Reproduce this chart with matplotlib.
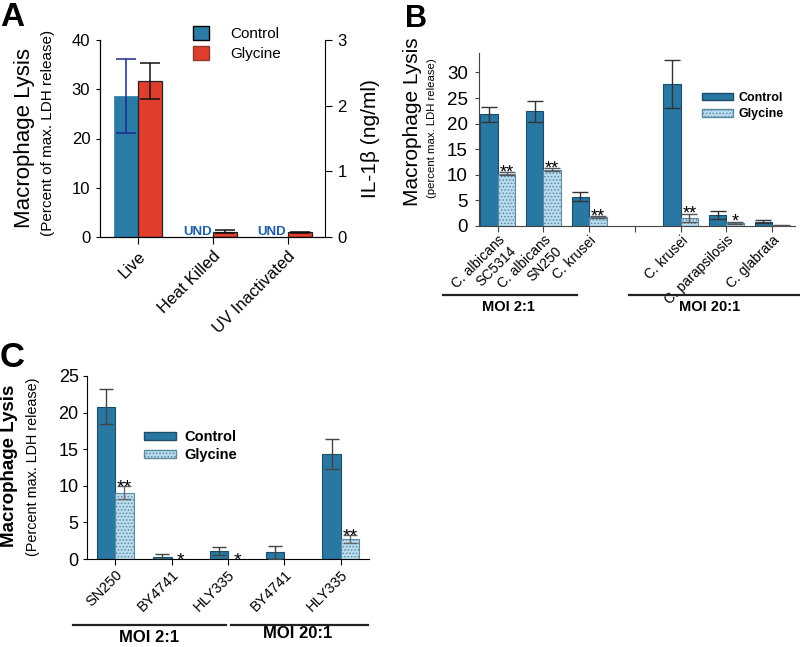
import numpy as np
import matplotlib
matplotlib.use('Agg')
import matplotlib.pyplot as plt
from matplotlib.patches import Patch
from matplotlib.lines import Line2D
import matplotlib.transforms as mtrans

# ---------------- DATA ----------------
A_categories = ['Live', 'Heat Killed', 'UV Inactivated']
A_control = [28.6, np.nan, np.nan]          # UND for heat killed / UV
A_control_err = [7.5, np.nan, np.nan]
A_glycine = [31.7, 1.1, 0.95]
A_glycine_err = [3.7, 0.3, 0.12]
A_und_label = 'UND'
A_ylabel = 'Macrophage Lysis'
A_ysub = '(Percent of max. LDH release)'
A_y2label = 'IL-1β (ng/ml)'

B_species = ['C. albicans', 'C. albicans', 'C. krusei', 'C. krusei', 'C. parapsilosis', 'C. glabrata']
B_strains = ['SC5314', 'SN250', '', '', '', '']
B_positions = [0, 1, 2, 4, 5, 6]
B_control = [21.8, 22.4, 5.7, 27.7, 2.1, 0.8]
B_control_err = [1.4, 2.0, 0.9, 4.7, 0.8, 0.3]
B_glycine = [10.2, 11.0, 1.7, 1.6, 0.6, 0.1]
B_glycine_err = [0.3, 0.3, 0.2, 0.8, 0.2, 0.05]
B_sig = ['**', '**', '**', '**', '*', '']
B_groups = ['MOI 2:1', 'MOI 20:1']

C_categories = ['SN250', 'BY4741', 'HLY335', 'BY4741', 'HLY335']
C_control = [20.8, 0.27, 1.14, 0.9, 14.4]
C_control_err = [2.4, 0.45, 0.55, 0.9, 2.05]
C_glycine = [9.06, 0.0, 0.0, 0.0, 2.73]
C_glycine_err = [0.9, 0.0, 0.0, 0.0, 0.5]
C_sig = ['**', '*', '*', '', '**']
C_groups = ['MOI 2:1', 'MOI 20:1']

series_labels = ['Control', 'Glycine']

# ---------------- STYLE ----------------
plt.rcParams['font.family'] = ['Liberation Sans', 'DejaVu Sans']
plt.rcParams['hatch.linewidth'] = 0.7

ctrlA = '#2a7ba6'
glyA = '#e03e2d'
ctrlB = '#2878a3'
edgeB = '#1d4c69'
glyB = '#b9dcee'
hatchB = '#5d8aa3'
und_color = '#1f5fa8'

W, H = 800, 647
fig = plt.figure(figsize=(8, 6.47), dpi=100)


def fx(x):
    return x / W


def fy(y):
    return 1 - y / H


def axrect(l, t, r, b):
    return [fx(l), fy(b), (r - l) / W, (b - t) / H]


def star(ax, x, y, s, size, dy):
    if s:
        ax.annotate(s, (x, y), xytext=(0, dy), textcoords='offset points',
                    ha='center', va='baseline', fontsize=size, annotation_clip=False)


# ================= PANEL A =================
axA = fig.add_axes(axrect(100, 40, 325, 237))
xa = np.arange(len(A_categories))
wA = 0.325
cA = np.array(A_control, dtype=float)
gA = np.array(A_glycine, dtype=float)
mask = ~np.isnan(cA)
axA.bar(xa[mask] - wA / 2, cA[mask], wA, color=ctrlA, edgecolor=ctrlA, linewidth=0.5, zorder=2)
axA.errorbar(xa[mask] - wA / 2, cA[mask], yerr=np.array(A_control_err)[mask], fmt='none',
             ecolor='#1c2b8f', elinewidth=1.1, capsize=7, capthick=1.1, zorder=3)
axA.bar(xa + wA / 2, gA, wA, color=glyA, edgecolor='#222222', linewidth=0.9, zorder=2)
axA.errorbar(xa + wA / 2, gA, yerr=A_glycine_err, fmt='none',
             ecolor='#111111', elinewidth=1.1, capsize=7, capthick=1.1, zorder=3)
for i in np.where(~mask)[0]:
    axA.text(xa[i] - 0.02, 0.45, A_und_label, color=und_color, fontweight='bold',
             fontsize=9.5, ha='right', va='baseline')
axA.set_xlim(-0.51, 2.5)
axA.set_ylim(0, 40)
axA.set_yticks([0, 10, 20, 30, 40])
axA.spines['top'].set_visible(False)
axA.spines['right'].set_visible(False)
axA.tick_params(axis='y', direction='out', length=3, labelsize=12, pad=4)
axA.tick_params(axis='x', direction='out', length=5)
axA.set_xticks(xa)
axA.set_xticklabels(A_categories, rotation=45, ha='right', va='top',
                    rotation_mode='anchor', fontsize=12)
axA2 = axA.twinx()
axA2.set_ylim(0, 3)
axA2.set_yticks([0, 1, 2, 3])
axA2.spines['top'].set_visible(False)
axA2.tick_params(axis='y', direction='out', length=5, labelsize=12, pad=4)
axA2.set_ylabel(A_y2label, fontsize=15, labelpad=10)
fig.text(fx(25), fy(138), A_ylabel, rotation=90, fontsize=16, ha='center', va='center')
fig.text(fx(48), fy(133), A_ysub, rotation=90, fontsize=11, ha='center', va='center')
axA.legend([Patch(facecolor=ctrlA, edgecolor='black'), Patch(facecolor=glyA, edgecolor='#8a3a30')],
           series_labels, loc='upper left', bbox_to_anchor=(fx(193), fy(26)),
           bbox_transform=fig.transFigure, frameon=False, fontsize=11,
           handlelength=1.05, handleheight=1.0, handletextpad=1.4, labelspacing=0.35,
           borderpad=0, borderaxespad=0)
fig.text(fx(0), fy(26), 'A', fontsize=24, fontweight='bold', va='baseline', ha='left')

# ================= PANEL B =================
axB = fig.add_axes(axrect(479, 53, 795, 226))
xb = np.array(B_positions, dtype=float)
wB = 0.385
axB.bar(xb - wB / 2, B_control, wB, color=ctrlB, edgecolor=edgeB, linewidth=0.8, zorder=2)
axB.errorbar(xb - wB / 2, B_control, yerr=B_control_err, fmt='none', ecolor='#333333',
             elinewidth=1.0, capsize=5.5, capthick=1.0, zorder=3)
axB.bar(xb + wB / 2, B_glycine, wB, color=glyB, edgecolor=hatchB, linewidth=0.8,
        hatch='.....', zorder=2)
axB.errorbar(xb + wB / 2, B_glycine, yerr=B_glycine_err, fmt='none', ecolor='#555555',
             elinewidth=1.0, capsize=5.5, capthick=1.0, zorder=3)
for x, v, e, s in zip(xb, B_glycine, B_glycine_err, B_sig):
    star(axB, x + wB / 2, v + e, s, 13, -3.5)
axB.set_xlim(-0.41, 6.5)
axB.set_ylim(0, 33.8)
axB.set_yticks([0, 5, 10, 15, 20, 25, 30])
axB.spines['top'].set_visible(False)
axB.spines['right'].set_visible(False)
axB.spines['left'].set_color('#444444')
axB.spines['bottom'].set_color('#444444')
axB.tick_params(axis='y', direction='out', length=3, labelsize=13.5, pad=5, color='#444444')
axB.tick_params(axis='x', direction='out', length=4, color='#444444', pad=1)
axB.set_xticks(list(xb[:3]) + [3] + list(xb[3:]))
rotB = 45
axB.set_xticklabels(B_species[:3] + [''] + B_species[3:], rotation=rotB, ha='right',
                    va='top', rotation_mode='anchor', fontsize=10)
# second line (strain) of the two-line labels
bt = mtrans.blended_transform_factory(axB.transData, axB.transAxes)
d = 11.5
for x, s in zip(xb, B_strains):
    if s:
        axB.annotate(s, (x, 0), xycoords=bt,
                     xytext=(d * np.sin(np.radians(rotB)), -5 - d * np.cos(np.radians(rotB))),
                     textcoords='offset points', rotation=rotB, ha='right', va='top',
                     rotation_mode='anchor', fontsize=10, annotation_clip=False)
fig.text(fx(412), fy(122), A_ylabel, rotation=90, fontsize=15, ha='center', va='center')
fig.text(fx(432), fy(128), '(percent max. LDH release)', rotation=90, fontsize=8.2,
         ha='center', va='center')
axB.legend([Patch(facecolor=ctrlB, edgecolor=edgeB),
            Patch(facecolor=glyB, edgecolor=hatchB, hatch='.....')],
           series_labels, loc='upper left', bbox_to_anchor=(fx(702), fy(92)),
           bbox_transform=fig.transFigure, frameon=False, prop={'weight': 'bold', 'size': 9},
           handlelength=2.5, handleheight=0.55, handletextpad=0.45, labelspacing=0.35,
           borderpad=0, borderaxespad=0)
for (x0, x1), cx, lab in zip([(443, 577), (629, 800)], [508, 710], B_groups):
    fig.add_artist(Line2D([fx(x0), fx(x1)], [fy(295), fy(295)], color='#222222', lw=1.6,
                          transform=fig.transFigure))
    fig.text(fx(cx), fy(307), lab, fontsize=10.5, fontweight='bold', ha='center', va='center')
fig.text(fx(405), fy(27), 'B', fontsize=22, fontweight='bold', va='baseline', ha='left')

# ================= PANEL C =================
axC = fig.add_axes(axrect(87, 376, 369, 559))
xc = np.arange(len(C_categories))
wC = 0.325
axC.bar(xc - wC / 2, C_control, wC, color=ctrlB, edgecolor=edgeB, linewidth=0.8, zorder=2)
axC.errorbar(xc - wC / 2, C_control, yerr=C_control_err, fmt='none', ecolor='#444444',
             elinewidth=1.0, capsize=5, capthick=1.0, zorder=3)
gmask = np.array(C_glycine) > 0
axC.bar(xc[gmask] + wC / 2, np.array(C_glycine)[gmask], wC, color=glyB, edgecolor=hatchB,
        linewidth=0.8, hatch='.....', zorder=2)
axC.errorbar(xc[gmask] + wC / 2, np.array(C_glycine)[gmask],
             yerr=np.array(C_glycine_err)[gmask], fmt='none', ecolor='#666666',
             elinewidth=1.0, capsize=5, capthick=1.0, zorder=3)
for x, v, e, s in zip(xc, C_glycine, C_glycine_err, C_sig):
    star(axC, x + wC / 2, v + e, s, 14, -4.5)
axC.set_xlim(-0.5, 4.5)
axC.set_ylim(0, 25)
axC.set_yticks([0, 5, 10, 15, 20, 25])
axC.spines['top'].set_visible(False)
axC.spines['right'].set_visible(False)
axC.tick_params(axis='y', direction='out', length=3, labelsize=13, pad=3)
axC.tick_params(axis='x', direction='out', length=4, pad=2)
axC.set_xticks(xc)
axC.set_xticklabels(C_categories, rotation=45, ha='right', va='top',
                    rotation_mode='anchor', fontsize=10.5)
fig.text(fx(10), fy(466), A_ylabel, rotation=90, fontsize=13.5, fontweight='bold',
         ha='center', va='center')
fig.text(fx(33), fy(467), '(Percent max. LDH release)', rotation=90, fontsize=10.4,
         ha='center', va='center')
axC.legend([Patch(facecolor=ctrlB, edgecolor=edgeB),
            Patch(facecolor=glyB, edgecolor=hatchB, hatch='.....')],
           series_labels, loc='upper left', bbox_to_anchor=(fx(144), fy(430)),
           bbox_transform=fig.transFigure, frameon=False, prop={'weight': 'bold', 'size': 10.5},
           handlelength=2.2, handleheight=0.45, handletextpad=0.6, labelspacing=0.3,
           borderpad=0, borderaxespad=0)
for (x0, x1), (cx, cy), lab in zip([(73, 226), (231, 368)], [(149, 638), (298, 634)], C_groups):
    fig.add_artist(Line2D([fx(x0), fx(x1)], [fy(625), fy(625)], color='#222222', lw=1.6,
                          transform=fig.transFigure))
    fig.text(fx(cx), fy(cy), lab, fontsize=12, fontweight='bold', ha='center', va='center')
fig.text(fx(0), fy(367), 'C', fontsize=25, fontweight='bold', va='baseline', ha='left')

fig.savefig('out.png', dpi=100)
